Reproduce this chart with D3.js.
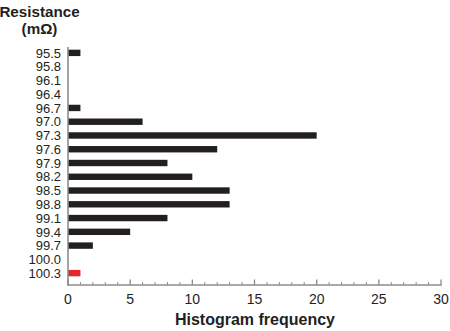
<!DOCTYPE html>
<html><head><meta charset="utf-8">
<script src="https://cdn.jsdelivr.net/npm/d3@7"></script>
<style>
body{margin:0;background:#fff;}
svg{display:block;font-family:"Liberation Sans",Arial,Helvetica,sans-serif;}
</style></head>
<body><svg id="c" width="450" height="331"></svg>
<script>
const categories = ["95.5","95.8","96.1","96.4","96.7","97.0","97.3","97.6","97.9","98.2","98.5","98.8","99.1","99.4","99.7","100.0","100.3"];
const frequency = [1,0,0,0,1,6,20,12,8,10,13,13,8,5,2,0,1];
const highlighted = ["100.3"];
const xTicks = [0,5,10,15,20,25,30];

const svg = d3.select("#c");
const x = d3.scaleLinear().domain([0,30]).range([68,441]);
const y = d3.scaleBand().domain(categories).range([46,280]);
const axisColor = "#8c8c8c", textColor = "#231f20";

// bars
svg.append("g").selectAll("rect").data(categories).join("rect")
  .attr("x", x(0))
  .attr("y", d => y(d) + y.bandwidth()/2 - 3.2)
  .attr("width", (d,i) => x(frequency[i]) - x(0))
  .attr("height", 6.4)
  .attr("fill", d => highlighted.includes(d) ? "#e5262b" : "#231f20");

// y labels
svg.append("g").selectAll("text").data(categories).join("text")
  .attr("x", 61).attr("y", d => y(d) + y.bandwidth()/2)
  .attr("dy","0.36em").attr("text-anchor","end")
  .attr("font-size", 13).attr("fill", textColor).text(d => d);

// axes lines
svg.append("line").attr("x1", x(0)).attr("x2", x(0)).attr("y1", 47).attr("y2", 285.5)
  .attr("stroke", axisColor).attr("stroke-width", 1.6);
svg.append("line").attr("x1", x(0)-0.8).attr("x2", x(30)+0.8).attr("y1", 285).attr("y2", 285)
  .attr("stroke", axisColor).attr("stroke-width", 1.6);

// ticks
const minor = d3.range(0,31,1);
svg.append("g").selectAll("line").data(minor).join("line")
  .attr("x1", d => x(d)).attr("x2", d => x(d))
  .attr("y1", 285).attr("y2", d => d % 5 === 0 ? 279.5 : 282)
  .attr("stroke", axisColor).attr("stroke-width", d => d % 5 === 0 ? 1.3 : 1);

svg.append("g").selectAll("text").data(xTicks).join("text")
  .attr("x", d => x(d)).attr("y", 303.5)
  .attr("text-anchor","middle").attr("font-size", 14).attr("fill", textColor).text(d => d);

// titles
svg.append("text").attr("x", 39.5).attr("y", 16.5).attr("text-anchor","middle")
  .attr("font-size", 15.2).attr("font-weight","bold").attr("fill", textColor).text("Resistance");
svg.append("text").attr("x", 39.5).attr("y", 33.5).attr("text-anchor","middle")
  .attr("font-size", 15.2).attr("font-weight","bold").attr("fill", textColor).text("(mΩ)");
svg.append("text").attr("x", 255).attr("y", 325).attr("text-anchor","middle")
  .attr("font-size", 16).attr("font-weight","bold").attr("fill", textColor).text("Histogram frequency");
</script></body></html>
